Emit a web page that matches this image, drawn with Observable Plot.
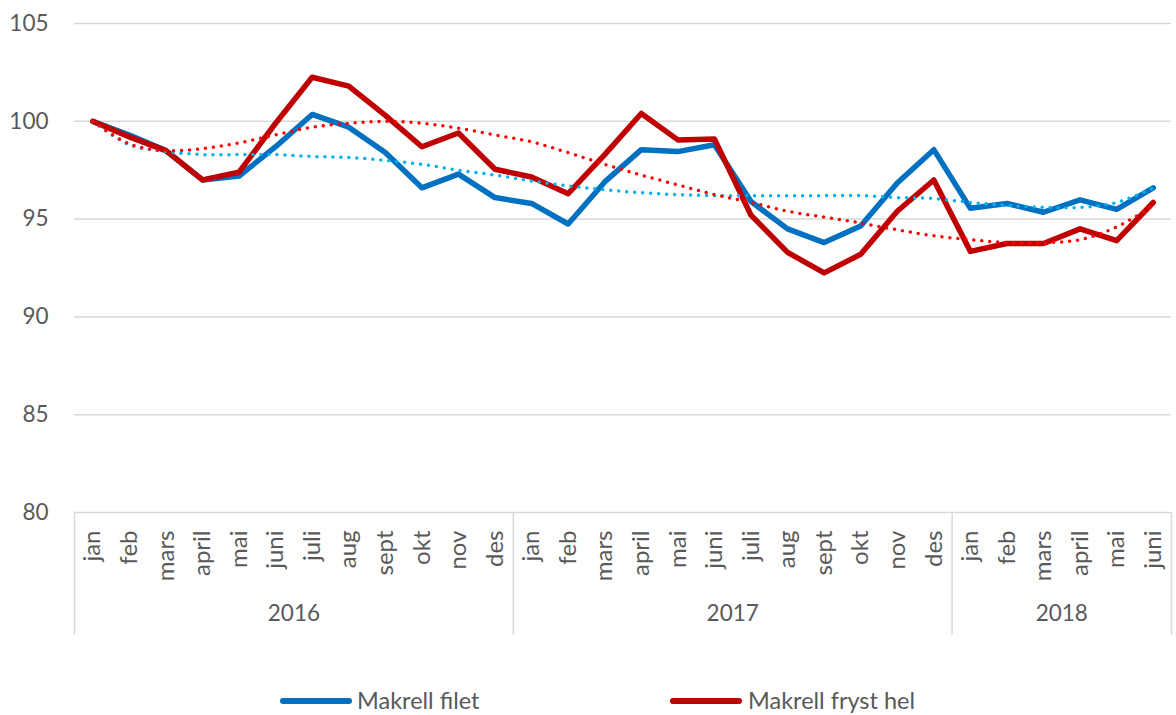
<!DOCTYPE html>
<html>
<head>
<meta charset="utf-8">
<script src="https://cdn.jsdelivr.net/npm/d3@7"></script>
<script src="https://cdn.jsdelivr.net/npm/@observablehq/plot@0.6"></script>
<style>
  html, body { margin: 0; padding: 0; background: #fff; }
  #wrap { position: relative; width: 1176px; height: 715px; font-family: Lato, "Noto Sans", sans-serif; color: #595959; }
  #legend { position: relative; width: 1176px; height: 45px; }
  .sw { position: absolute; height: 6px; border-radius: 3px; }
  .lab { position: absolute; font-size: 23.5px; line-height: 24px; white-space: nowrap; }
</style>
</head>
<body>
<div id="wrap">
  <div id="chart"></div>
  <div id="legend"></div>
</div>
<script>
// ---- data ----
const months = ["jan","feb","mars","april","mai","juni","juli","aug","sept","okt","nov","des",
                "jan","feb","mars","april","mai","juni","juli","aug","sept","okt","nov","des",
                "jan","feb","mars","april","mai","juni"];
const years = ["2016", "2017", "2018"];
const yearCounts = [12, 12, 6];
const yTicks = [80, 85, 90, 95, 100, 105];

const filet = [100, 99.3, 98.5, 97.0, 97.2, 98.7, 100.35, 99.7, 98.4, 96.6, 97.3, 96.1,
               95.8, 94.75, 96.9, 98.55, 98.45, 98.8, 95.9, 94.5, 93.8, 94.65, 96.85, 98.55,
               95.55, 95.8, 95.35, 95.98, 95.5, 96.6];
const fryst = [100, 99.2, 98.5, 97.0, 97.4, 99.9, 102.25, 101.8, 100.3, 98.7, 99.4, 97.55,
               97.15, 96.3, 98.3, 100.4, 99.05, 99.1, 95.2, 93.3, 92.25, 93.2, 95.4, 97.0,
               93.35, 93.75, 93.75, 94.5, 93.9, 95.85];
const filetTrend = [100, 98.8, 98.45, 98.3, 98.3, 98.3, 98.2, 98.15, 98.0, 97.8, 97.5, 97.25,
                    96.95, 96.7, 96.5, 96.35, 96.25, 96.2, 96.2, 96.2, 96.2, 96.2, 96.1, 96.05,
                    95.85, 95.7, 95.6, 95.6, 95.85, 96.6];
const frystTrend = [100, 98.85, 98.5, 98.6, 98.9, 99.3, 99.7, 99.9, 100.0, 99.9, 99.65, 99.3,
                    98.95, 98.4, 97.8, 97.25, 96.75, 96.25, 95.85, 95.4, 95.1, 94.8, 94.45, 94.15,
                    93.95, 93.8, 93.8, 93.95, 94.6, 95.7];
const seriesNames = ["Makrell filet", "Makrell fryst hel"];

// ---- derived tables ----
const idx = months.map((_, i) => i);
const rows = (arr) => arr.map((v, i) => ({i, v}));
let acc = 0;
const yearRows = years.map((label, k) => {
  const start = acc; acc += yearCounts[k];
  return {label, start: start - 0.5, end: acc - 0.5, mid: (start + acc - 1) / 2};
});
const boundaries = [yearRows[0].start, ...yearRows.map(d => d.end)];

const grey = "#595959";
const gridC = "#d9d9d9";
const blue = "#0070C0", red = "#C00000", lblue = "#00B0F0", lred = "#FF0000";

const chart = Plot.plot({
  width: 1176,
  height: 670,
  marginTop: 23,
  marginBottom: 158,
  marginLeft: 74,
  marginRight: 5,
  style: {fontFamily: "Lato, 'Noto Sans', sans-serif", color: grey, background: "#fff", overflow: "visible"},
  x: {type: "linear", domain: [-0.5, months.length - 0.5], axis: null},
  y: {domain: [80, 105], axis: null},
  marks: [
    Plot.gridY(yTicks, {stroke: gridC, strokeOpacity: 1, strokeWidth: 1.5}),
    Plot.ruleX(boundaries, {stroke: gridC, strokeWidth: 1.5, insetTop: 489, insetBottom: -123}),
    Plot.axisY(yTicks, {tickSize: 0, tickPadding: 26, fontSize: 22.5, fill: grey, label: null}),
    Plot.text(idx, {x: d => d, text: d => months[d], frameAnchor: "bottom", dy: 18,
                    rotate: -90, textAnchor: "end", lineAnchor: "middle", fontSize: 24, fill: grey}),
    Plot.text(yearRows, {x: "mid", text: "label", frameAnchor: "bottom", dy: 108,
                         fontSize: 22.5, fill: grey}),
    Plot.line(rows(filet), {x: "i", y: "v", stroke: blue, strokeWidth: 5.5, strokeLinejoin: "round", strokeLinecap: "round"}),
    Plot.line(rows(fryst), {x: "i", y: "v", stroke: red, strokeWidth: 5.5, strokeLinejoin: "round", strokeLinecap: "round"}),
    Plot.line(rows(filetTrend), {x: "i", y: "v", stroke: lblue, strokeWidth: 3.5, curve: "catmull-rom",
                                 strokeDasharray: "0 8", strokeLinecap: "round"}),
    Plot.line(rows(frystTrend), {x: "i", y: "v", stroke: lred, strokeWidth: 3.5, curve: "catmull-rom",
                                 strokeDasharray: "0 8", strokeLinecap: "round"})
  ]
});
document.getElementById("chart").appendChild(chart);

// ---- legend ----
const legend = document.getElementById("legend");
const legendItems = [
  {name: seriesNames[0], color: blue, sx: 280, tx: 357},
  {name: seriesNames[1], color: red, sx: 670, tx: 748}
];
for (const it of legendItems) {
  const sw = document.createElement("div");
  sw.className = "sw";
  sw.style.left = it.sx + "px"; sw.style.width = "72px"; sw.style.top = (700.5 - 670 - 3) + "px";
  sw.style.background = it.color;
  legend.appendChild(sw);
  const lab = document.createElement("div");
  lab.className = "lab";
  lab.textContent = it.name;
  lab.style.left = it.tx + "px"; lab.style.top = (700 - 670 - 12) + "px";
  legend.appendChild(lab);
}
</script>
</body>
</html>
